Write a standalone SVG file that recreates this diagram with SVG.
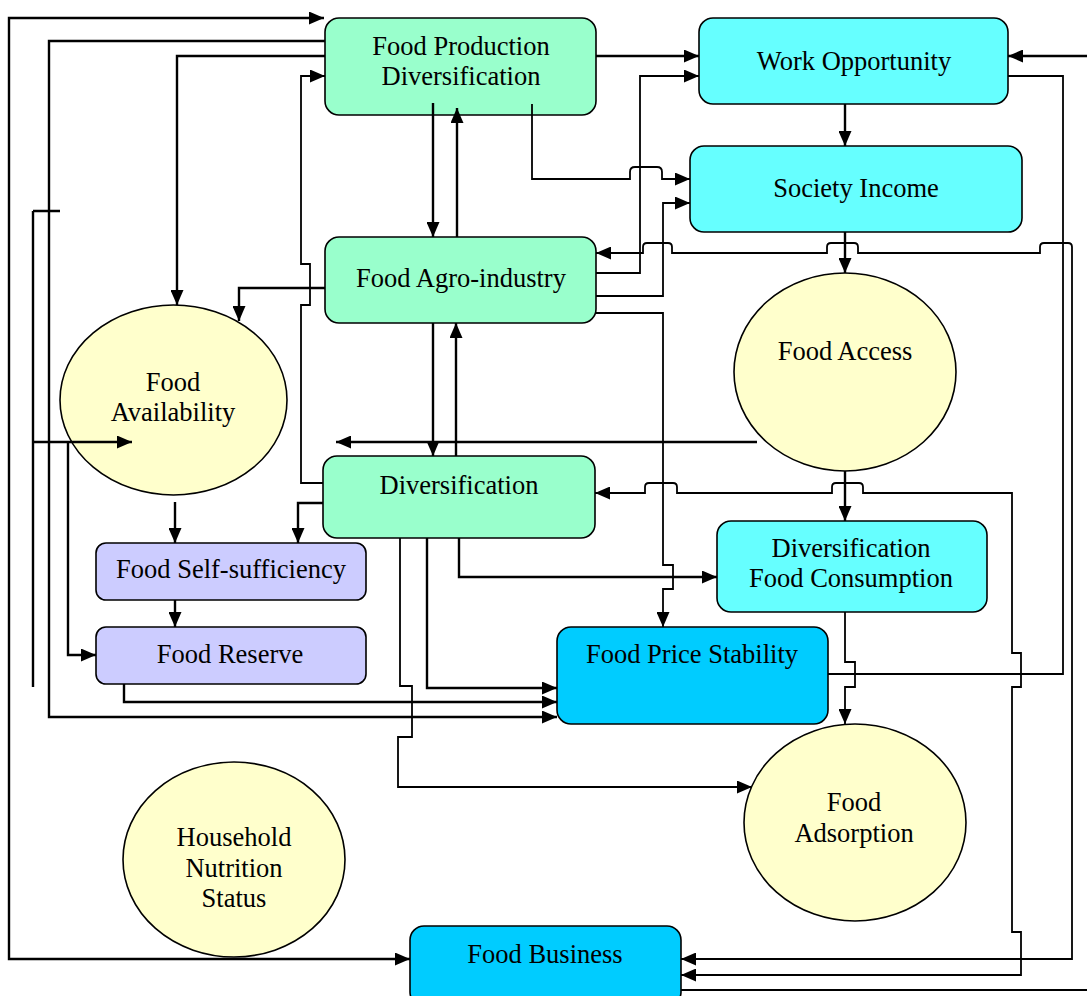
<svg xmlns="http://www.w3.org/2000/svg" width="1087" height="996" viewBox="0 0 1087 996">
<style>
.box{stroke:#000;stroke-width:1.6}
.mint{fill:#99FFCC}.cyan{fill:#66FFFF}.blue{fill:#00CCFF}.lav{fill:#CCCCFF}.yel{fill:#FFFFCC}
text{font-family:"Liberation Serif","Times New Roman",serif;font-size:26.5px;fill:#000;text-anchor:middle}
.c path{fill:none;stroke:#000;stroke-width:2.4;stroke-linejoin:miter}
.c path.t{stroke-width:1.8}
.c path.a{marker-end:url(#ah)}
.c path.b{marker-start:url(#ah);marker-end:url(#ah)}
</style>
<defs>
<marker id="ah" viewBox="0 0 15 13" refX="15" refY="6.5" markerWidth="15" markerHeight="13" markerUnits="userSpaceOnUse" orient="auto-start-reverse"><path d="M0,0 L15,6.5 L0,13 z" fill="#000"/></marker>
</defs>
<rect width="1087" height="996" fill="#fff"/>
<g id="fpd"><rect class="box mint" x="325" y="18" width="271" height="97" rx="14"/><text x="461" y="55">Food Production</text><text x="461" y="85">Diversification</text></g>
<g id="work"><rect class="box cyan" x="699" y="18" width="309" height="86" rx="14"/><text x="854" y="70">Work Opportunity</text></g>
<g id="income"><rect class="box cyan" x="690" y="146" width="332" height="86" rx="14"/><text x="856" y="197">Society Income</text></g>
<g id="agro"><rect class="box mint" x="325" y="237" width="271" height="86" rx="14"/><text x="461" y="287">Food Agro-industry</text></g>
<g id="access"><ellipse class="box yel" cx="845" cy="372" rx="111" ry="99"/><text x="845" y="360">Food Access</text></g>
<g id="avail"><ellipse class="box yel" cx="173.5" cy="400" rx="113.5" ry="95"/><text x="173" y="391">Food</text><text x="173" y="421">Availability</text></g>
<g id="div"><rect class="box mint" x="323" y="456" width="272" height="82" rx="14"/><text x="459" y="494">Diversification</text></g>
<g id="selfsuf"><rect class="box lav" x="96" y="543" width="270" height="57" rx="10"/><text x="231" y="578">Food Self-sufficiency</text></g>
<g id="reserve"><rect class="box lav" x="96" y="627" width="270" height="57" rx="10"/><text x="230" y="663">Food Reserve</text></g>
<g id="dfc"><rect class="box cyan" x="717" y="521" width="270" height="91" rx="14"/><text x="851" y="557">Diversification</text><text x="851" y="587">Food Consumption</text></g>
<g id="price"><rect class="box blue" x="557" y="627" width="271" height="97" rx="14"/><text x="692" y="663">Food Price Stability</text></g>
<g id="adsorp"><ellipse class="box yel" cx="855" cy="822.5" rx="111" ry="98.5"/><text x="854" y="811">Food</text><text x="854" y="842">Adsorption</text></g>
<g id="household"><ellipse class="box yel" cx="234" cy="859.5" rx="111" ry="97.5"/><text x="234" y="846">Household</text><text x="234" y="877">Nutrition</text><text x="234" y="907">Status</text></g>
<g id="business"><rect class="box blue" x="410" y="926" width="271" height="80" rx="14"/><text x="545" y="963">Food Business</text></g>
<g id="connectors" class="c">
<path class="b" d="M324,18 L9,18 L9,959 L410,959"/>
<path class="a" d="M325,41 L49,41 L49,717 L557,717"/>
<path class="a" d="M325,56 L177,56 L177,305"/>
<path class="a t" d="M323,483 L301,483 L301,305 L310,305 L310,264 L301,264 L301,76 L325,76"/>
<path class="a" d="M325,288 L239,288 L239,321"/>
<path d="M33,211 L33,687 M33,211 L60,211"/>
<path class="a" d="M33,442 L132,442"/>
<path class="a" d="M68,442 L68,655 L96,655"/>
<path class="a" d="M175,502 L175,543"/>
<path class="a" d="M323,503 L298,503 L298,543"/>
<path class="a" d="M175,600 L175,627"/>
<path class="a" d="M124,684 L124,702 L557,702"/>
<path class="a" d="M433,103 L433,237"/>
<path class="a" d="M457,237 L457,108"/>
<path class="a" d="M433,323 L433,456"/>
<path class="a" d="M456,456 L456,323"/>
<path class="a" d="M596,56 L699,56"/>
<path class="a t" d="M596,273 L640,273 L640,76 L699,76"/>
<path class="a t" d="M596,296 L663,296 L663,203 L690,203"/>
<path class="a t" d="M532,104 L532,179 L630,179 L630,172 Q630,167 635,167 L657,167 Q662,167 662,172 L662,179 L690,179"/>
<path class="b t" d="M596,253 L643,253 L643,247 Q643,243 647,243 L668,243 Q672,243 672,247 L672,253 L827,253 L827,247 Q827,243 831,243 L854,243 Q858,243 858,247 L858,253 L1040,253 L1040,247 Q1040,243 1044,243 L1068,243 Q1072,243 1072,247 L1072,959 L681,959"/>
<path class="b t" d="M595,493 L645,493 L645,487 Q645,483 649,483 L673,483 Q677,483 677,487 L677,493 L832,493 L832,487 Q832,483 836,483 L859,483 Q863,483 863,487 L863,493 L1012,493 L1012,653 L1021,653 L1021,687 L1012,687 L1012,932 L1021,932 L1021,975 L681,975"/>
<path class="a t" d="M596,313 L663,313 L663,565 L673,565 L673,589 L663,589 L663,627"/>
<path class="a" d="M459,538 L459,577 L717,577"/>
<path class="a" d="M427,538 L427,688 L557,688"/>
<path class="a t" d="M400,538 L400,686 L412,686 L412,737 L398,737 L398,787 L752,787"/>
<path class="a" d="M757,442 L336,442"/>
<path class="a" d="M845,104 L845,146"/>
<path class="a" d="M845,232 L845,273"/>
<path class="a" d="M845,471 L845,521"/>
<path class="a t" d="M845,612 L845,662 L855,662 L855,687 L845,687 L845,724"/>
<path class="t" d="M1008,76 L1063,76 L1063,674 L828,674"/>
<path class="a" d="M1087,56 L1008,56"/>
<path class="t" d="M681,990 L1087,990"/>
</g>
</svg>
